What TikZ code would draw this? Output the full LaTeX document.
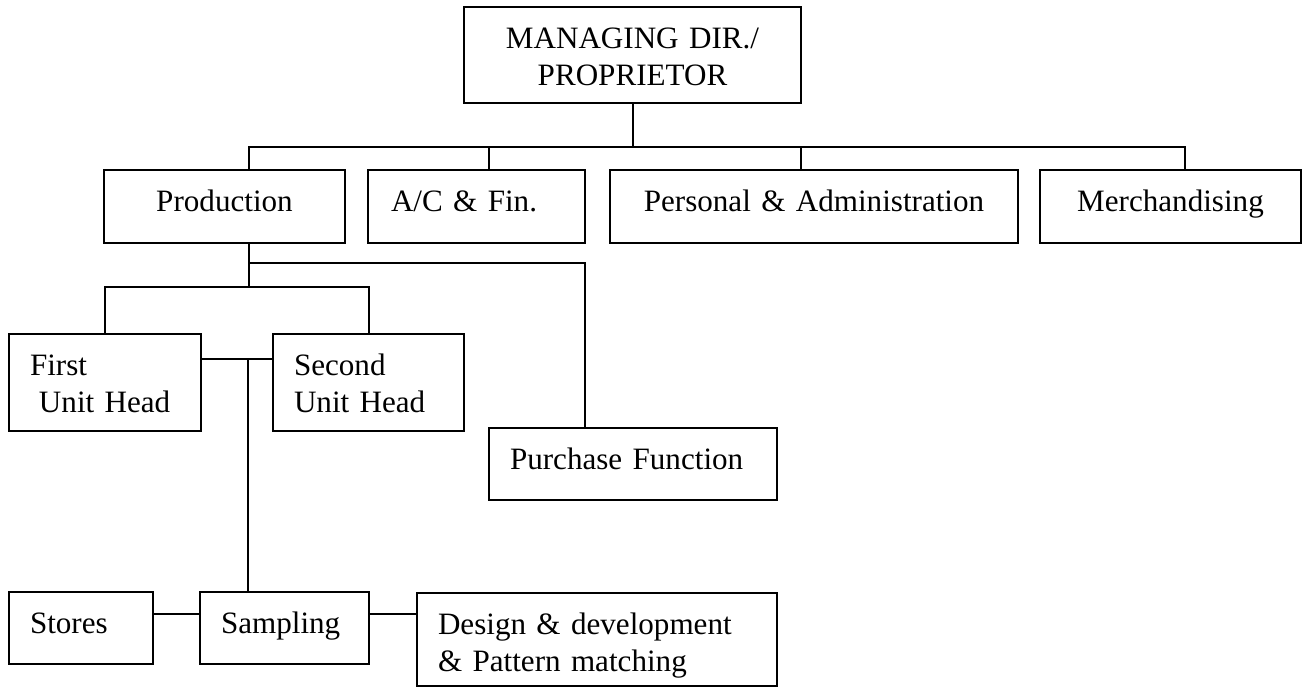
\documentclass[tikz,border=0pt]{standalone}
\usepackage{fontspec}
\setmainfont{Liberation Serif}
\usepackage{tikz}
\usetikzlibrary{positioning}

\begin{document}
\begin{tikzpicture}[
            font=\fontsize{17.7}{21.1}\selectfont,
            box/.style={
                    draw, line width=0.04cm, align=left,
                    inner xsep=0.42cm, inner ysep=0pt,
                    text height=0.82cm, text depth=0.64cm
                },
            conn/.style={line width=0.04cm}
            ]
            \useasboundingbox (0,0) rectangle (26.04,-13.74);

            \node[box, text width=5.9cm, align=center, text depth=1.10cm,
                anchor=north west] (md) at (9.26,-0.12)
            {MANAGING DIR./\\PROPRIETOR};

            \node[box, text width=3.98cm, align=center, anchor=north west]
            (prod) at (2.06,-3.38) {Production};
            \node[box, text width=3.42cm, inner xsep=0.46cm, right=0.42cm of prod]
            (acf) {A/C \& Fin.};
            \node[box, text width=7.32cm, align=center, right=0.46cm of acf]
            (pers) {Personal \& Administration};
            \node[box, text width=4.38cm, align=center, right=0.40cm of pers]
            (merch) {Merchandising};

            \node[box, text width=3.0cm, text depth=1.12cm, anchor=north west]
            (first) at (0.16,-6.66) {First\\\hspace*{0.18cm}Unit Head};
            \node[box, text width=2.98cm, text depth=1.12cm, right=1.40cm of first]
            (second) {Second\\Unit Head};
            \node[box, text width=4.92cm, text depth=0.62cm, anchor=north west]
            (purch) at (9.76,-8.54) {Purchase Function};

            \node[box, text width=2.04cm, text depth=0.62cm, anchor=north west]
            (stores) at (0.16,-11.82) {Stores};
            \node[box, text width=2.54cm, text depth=0.62cm, right=0.90cm of stores]
            (samp) {Sampling};
            \node[box, text width=6.36cm, text depth=1.04cm, anchor=north west]
            (design) at (8.32,-11.84) {Design \& development\\\& Pattern matching};

            \coordinate (topbus) at (0,-2.94);
            \coordinate (midbus) at (0,-5.26);
            \coordinate (unitbus) at (0,-5.74);
            \coordinate (unitlink) at (4.96,-7.18);
            \coordinate (baselink) at (0,-12.27);

            % top level
            \draw[conn] (md.south) -- (md.south |- topbus);
            \draw[conn] ([xshift=0.49cm]prod.north) |- ([xshift=0.29cm]merch.north |- topbus)
            -- ([xshift=0.29cm]merch.north);
            \draw[conn] ([xshift=0.25cm]acf.north) -- ([xshift=0.25cm]acf.north |- topbus);
            \draw[conn] ([xshift=-0.26cm]pers.north) -- ([xshift=-0.26cm]pers.north |- topbus);

            % under production
            \draw[conn] ([xshift=0.49cm]prod.south) -- ([xshift=0.49cm]prod.south |- unitbus);
            \draw[conn] (midbus -| unitlink) -| ([xshift=-0.96cm]purch.north);
            \draw[conn] (first.north) |- (unitbus -| second.north) -- (second.north);
            \draw[conn] (unitlink -| first.east) -- (unitlink -| second.west);
            \draw[conn] (unitlink) -- (unitlink |- samp.north);

            % bottom row
            \draw[conn] (baselink -| stores.east) -- (baselink -| samp.west);
            \draw[conn] (baselink -| samp.east) -- (baselink -| design.west);
        \end{tikzpicture}
\end{document}
